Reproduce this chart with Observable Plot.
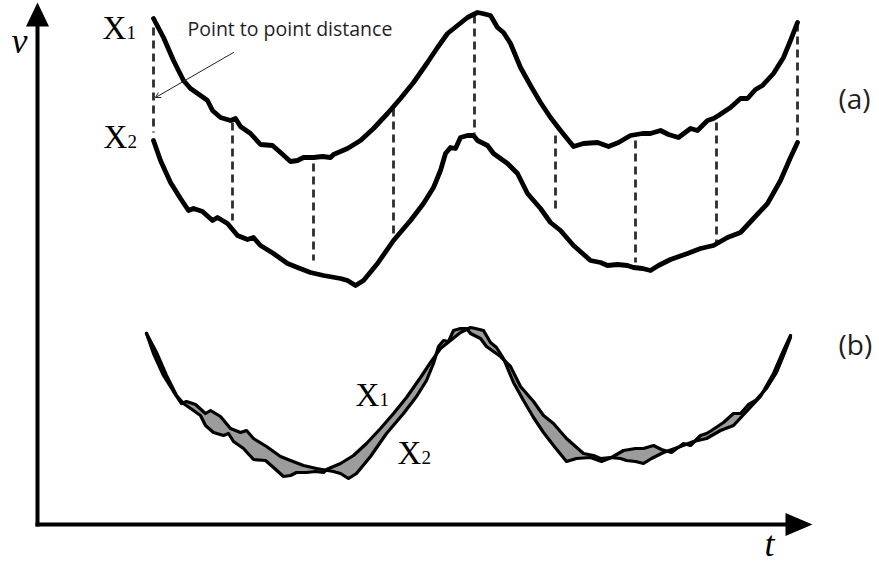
<!DOCTYPE html>
<html><head><meta charset="utf-8">
<script src="https://cdn.jsdelivr.net/npm/d3@7"></script>
<script src="https://cdn.jsdelivr.net/npm/@observablehq/plot@0.6"></script>
<style>html,body{margin:0;padding:0;background:#fff;}svg{display:block;}</style>
</head><body><div id="chart"></div>
<script>
// ---- data (t: time samples, v: value) ----
const X1_t = [0,10,20,30,37,47,54,59,67,77,82,87,97,107,119,127,137,144,150,160,169,177,180,194,207,220,234,247,260,274,284,294,304,314,324,329,337,344,350,357,367,377,387,397,407,420,430,444,455,465,477,489,497,507,515,525,537,544,554,560,565,577,587,594,602,609,620,630,637,644];
const X1_v = [50.6,48.7,46.4,44.4,43.6,42.9,42.4,41.4,40.7,40.4,40.6,39.8,39.1,38.0,37.9,37.2,36.3,36.4,36.7,36.7,36.8,36.7,37.0,37.6,38.4,39.6,41.1,42.6,44.2,46.2,47.7,49.1,49.9,50.7,51.2,51.1,50.9,49.7,49.2,48.1,45.7,43.9,42.2,40.7,39.4,37.8,38.1,38.2,37.8,38.2,38.9,39.1,39.1,39.4,39.0,38.7,39.6,39.4,40.4,40.6,40.9,41.7,42.6,42.6,43.5,43.9,45.1,46.7,48.4,50.2];
const X2_t = [0,7,17,27,35,40,49,59,64,74,84,94,100,107,120,134,144,157,170,187,194,202,210,224,240,257,270,280,287,292,297,302,307,314,320,324,334,340,354,364,374,387,397,407,420,437,447,454,464,474,480,489,497,505,517,534,547,560,574,587,600,614,627,637,644];
const X2_v = [38.4,36.4,34.2,32.6,31.4,31.6,31.3,30.4,30.7,30.1,28.9,28.5,28.7,27.9,27.1,26.1,25.7,25.2,24.9,24.6,24.4,23.9,24.4,26.1,28.4,30.4,32.1,33.7,35.4,37.1,37.7,37.6,38.7,38.9,38.9,38.4,37.9,37.1,36.1,35.1,33.1,31.6,30.2,29.4,27.9,26.4,26.2,25.9,26.0,25.9,25.7,25.6,25.4,25.9,26.5,27.1,27.6,27.9,28.7,29.2,30.6,32.1,34.4,36.7,38.2];
// point-to-point distance segments (t, top value, bottom value)
const dash_t = [0,79,160,240,321,402,482,563,644];
const dash_top = [49.7,40.2,36.1,41.6,50.9,38.9,38.4,40.2,50.1];
const dash_bot = [39.2,30.4,26.4,28.9,39.1,31.4,26.2,28.2,38.4];
// panel (b): the same two series aligned on a common baseline
const shiftB_t = -7, shiftB_X1 = -31.5, shiftB_X2 = -19.3;
// axis extent
const axis_t = [-116, 636];
const axis_v = [0, 50.3];
const panelLabels = ["(a)", "(b)"];

const zip = (T, V, dt = 0, dv = 0) => T.map((t, i) => ({t: t + dt, v: +(V[i] + dv).toFixed(2)}));
const a1 = zip(X1_t, X1_v), a2 = zip(X2_t, X2_v);
const b1 = zip(X1_t, X1_v, shiftB_t, shiftB_X1), b2 = zip(X2_t, X2_v, shiftB_t, shiftB_X2);
const band = [...b1, ...b2.slice().reverse()];
const dashes = dash_t.map((t, i) => ({t, top: dash_top[i], bot: dash_bot[i]}));

const arrowUp = {draw(ctx, size) {const r = Math.sqrt(size / Math.PI); ctx.moveTo(0, -r); ctx.lineTo(0.96 * r, r); ctx.lineTo(-0.96 * r, r); ctx.closePath();}};
const arrowRight = {draw(ctx, size) {const r = Math.sqrt(size / Math.PI); ctx.moveTo(r, 0); ctx.lineTo(-r, 0.85 * r); ctx.lineTo(-r, -0.85 * r); ctx.closePath();}};

const serif = "'Liberation Serif', 'Times New Roman', serif";
const sans = "'Open Sans', 'Noto Sans', sans-serif";
function subLabel(p, sub, dx, dy) {
  return [
    Plot.text([p], {x: "t", y: "v", text: () => "X", dx, dy, textAnchor: "start", lineAnchor: "bottom", fontFamily: serif, fontSize: 33, fill: "#000"}),
    Plot.text([p], {x: "t", y: "v", text: () => sub, dx: dx + 24, dy, textAnchor: "start", lineAnchor: "bottom", fontFamily: serif, fontSize: 19, fill: "#000"})
  ];
}
const at = (arr, t) => arr.find(d => d.t === t);

const chart = Plot.plot({
  width: 879, height: 563,
  marginTop: 0, marginRight: 0, marginBottom: 0, marginLeft: 0,
  x: {domain: [-153, 726], range: [0, 879], axis: null},
  y: {domain: [-3.9, 52.4], range: [563, 0], axis: null},
  marks: [
    // axes
    Plot.link([{x1: axis_t[0], y1: axis_v[0], x2: axis_t[0], y2: axis_v[1]}, {x1: axis_t[0], y1: axis_v[0], x2: axis_t[1], y2: axis_v[0]}],
      {x1: "x1", y1: "y1", x2: "x2", y2: "y2", stroke: "#000", strokeWidth: 4, strokeLinecap: "square"}),
    Plot.dot([{t: axis_t[0], v: 51.0}], {x: "t", y: "v", symbol: arrowUp, r: 12, fill: "#000", stroke: "none"}),
    Plot.dot([{t: 645.5, v: axis_v[0]}], {x: "t", y: "v", symbol: arrowRight, r: 13.5, fill: "#000", stroke: "none"}),
    Plot.text([{t: axis_t[0], v: 47.2}], {x: "t", y: "v", text: () => "v", dx: -18, textAnchor: "middle", lineAnchor: "bottom", fontFamily: serif, fontStyle: "italic", fontSize: 36, fill: "#000"}),
    Plot.text([{t: 616, v: -3.1}], {x: "t", y: "v", text: () => "t", textAnchor: "middle", lineAnchor: "bottom", fontFamily: serif, fontStyle: "italic", fontSize: 36, fill: "#000"}),
    // panel (a)
    Plot.link(dashes, {x1: "t", x2: "t", y1: "top", y2: "bot", stroke: "#2e2e2e", strokeWidth: 2.8, strokeDasharray: "8,5"}),
    Plot.line(a1, {x: "t", y: "v", stroke: "#000", strokeWidth: 4.8, strokeLinejoin: "round", curve: "linear"}),
    Plot.line(a2, {x: "t", y: "v", stroke: "#000", strokeWidth: 4.8, strokeLinejoin: "round", curve: "linear"}),
    ...subLabel(a1[0], "1", -51, 20),
    ...subLabel(a2[0], "2", -50, 7),
    Plot.text([{t: 34, v: 48.9}], {x: "t", y: "v", text: () => "Point to point distance", textAnchor: "start", lineAnchor: "bottom", fontFamily: sans, fontSize: 19.5, fill: "#1e1e2a"}),
    Plot.arrow([{x1: 80, y1: 47.2, x2: 2, y2: 42.7}], {x1: "x1", y1: "y1", x2: "x2", y2: "y2", stroke: "#222", strokeWidth: 1, headLength: 8}),
    Plot.text([{t: 685, v: 42.4}], {x: "t", y: "v", text: () => panelLabels[0], textAnchor: "start", lineAnchor: "middle", fontFamily: sans, fontSize: 28, fill: "#1e1e1e"}),
    // panel (b)
    Plot.line(band, {x: "t", y: "v", fill: "#9c9c9c", stroke: "none", curve: "linear"}),
    Plot.line(b1, {x: "t", y: "v", stroke: "#000", strokeWidth: 3.2, strokeLinejoin: "round"}),
    Plot.line(b2, {x: "t", y: "v", stroke: "#000", strokeWidth: 3.2, strokeLinejoin: "round"}),
    ...subLabel(at(b1, 260 + shiftB_t), "1", -51, 8),
    ...subLabel(at(b2, 240 + shiftB_t), "2", 11, 30),
    Plot.text([{t: 685, v: 17.8}], {x: "t", y: "v", text: () => panelLabels[1], textAnchor: "start", lineAnchor: "middle", fontFamily: sans, fontSize: 28, fill: "#1e1e1e"})
  ]
});
document.getElementById("chart").appendChild(chart);
</script>
</body></html>
